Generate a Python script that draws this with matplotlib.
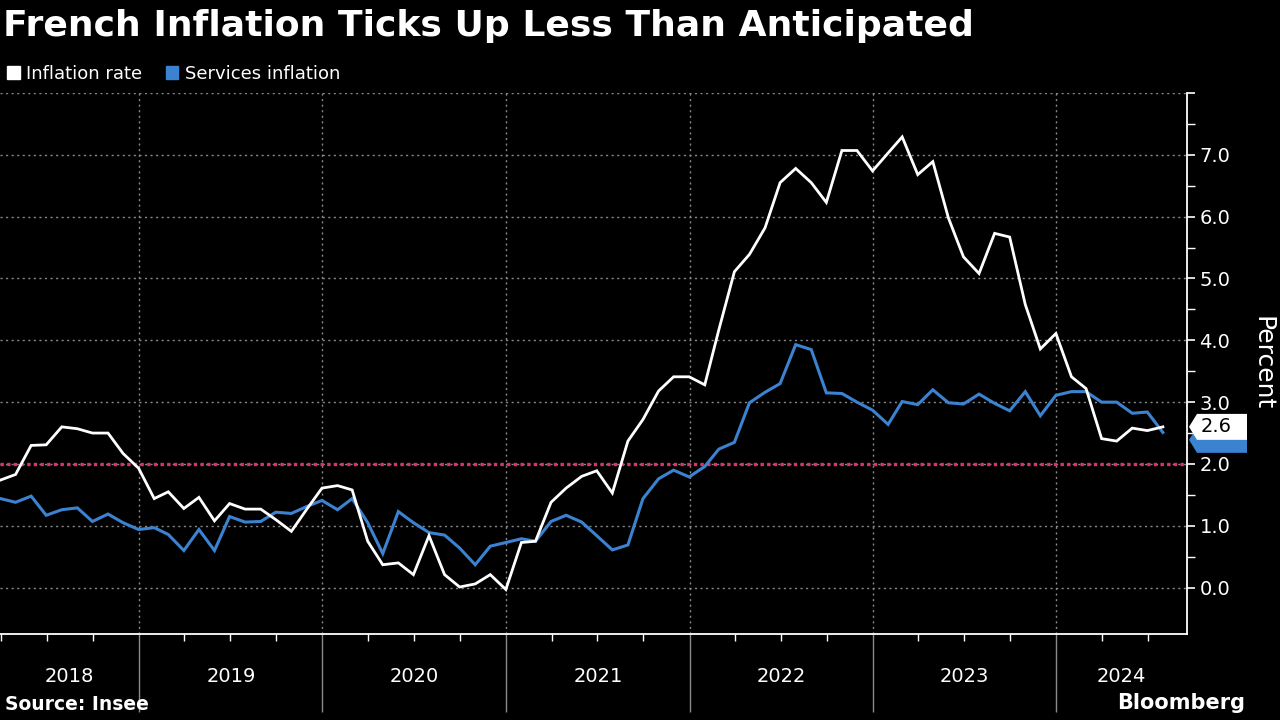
"""
French inflation vs services inflation, Bloomberg-style dark chart.
"""
import numpy as np
import pandas as pd
import matplotlib
matplotlib.use("Agg")
import matplotlib.pyplot as plt
import matplotlib.dates as mdates
import matplotlib.transforms as mtransforms
from matplotlib.patches import Patch, Polygon

# =========================================================
# DATA  (monthly, Mar 2018 - Jul 2024, % y/y)
# =========================================================
dates = pd.date_range("2018-03-31", "2024-07-31", freq="ME")

inflation_rate = [
    1.74, 1.83, 2.30, 2.31, 2.60, 2.57, 2.50, 2.50, 2.17, 1.93,                   # 2018
    1.44, 1.55, 1.28, 1.46, 1.08, 1.36, 1.27, 1.27, 1.10, 0.91, 1.26, 1.61,       # 2019
    1.65, 1.58, 0.75, 0.37, 0.40, 0.21, 0.84, 0.21, 0.01, 0.06, 0.21, -0.03,      # 2020
    0.73, 0.75, 1.38, 1.61, 1.80, 1.89, 1.53, 2.37, 2.72, 3.18, 3.41, 3.41,       # 2021
    3.28, 4.17, 5.11, 5.39, 5.82, 6.55, 6.78, 6.55, 6.23, 7.07, 7.07, 6.74,       # 2022
    7.03, 7.29, 6.68, 6.89, 5.98, 5.35, 5.08, 5.73, 5.67, 4.58, 3.86, 4.11,       # 2023
    3.41, 3.22, 2.41, 2.37, 2.58, 2.54, 2.60,                                     # 2024
]
services_inflation = [
    1.44, 1.38, 1.48, 1.17, 1.26, 1.29, 1.07, 1.19, 1.05, 0.94,
    0.97, 0.86, 0.60, 0.94, 0.60, 1.15, 1.06, 1.07, 1.22, 1.20, 1.31, 1.41,
    1.26, 1.44, 1.05, 0.55, 1.23, 1.05, 0.89, 0.85, 0.64, 0.37, 0.67, 0.73,
    0.79, 0.75, 1.07, 1.17, 1.06, 0.84, 0.61, 0.69, 1.44, 1.76, 1.90, 1.79,
    1.96, 2.24, 2.35, 2.99, 3.16, 3.30, 3.93, 3.85, 3.15, 3.14, 3.00, 2.87,
    2.64, 3.01, 2.96, 3.20, 2.99, 2.97, 3.13, 2.98, 2.86, 3.17, 2.78, 3.11,
    3.17, 3.17, 3.00, 3.00, 2.82, 2.84, 2.51,
]
target = 2.0
years = list(range(2018, 2025))
last_label = "2.6"

# =========================================================
# STYLE
# =========================================================
BG = "black"
WHITE = "white"
BLUE = "#3b82d0"
RED = "#e0306a"
GRID = "#8a8a8a"
plt.rcParams["font.family"] = ["DejaVu Sans"]

fig = plt.figure(figsize=(12.8, 7.2), dpi=100, facecolor=BG)
ax = fig.add_axes([0.0, 1 - 634 / 720, 1187 / 1280, (634 - 93) / 720], facecolor=BG)

ax.plot(dates, services_inflation, color=BLUE, linewidth=2.2, zorder=3, solid_joinstyle="miter")
ax.plot(dates, inflation_rate, color=WHITE, linewidth=2.0, zorder=4, solid_joinstyle="miter")
ax.axhline(target, color=RED, linestyle=(0, (1, 1)), linewidth=2.4, zorder=2)

ax.set_ylim(-0.75, 8.0)
ax.set_xlim(pd.Timestamp("2018-03-30"), pd.Timestamp("2024-09-17"))

# y axis on the right
ax.yaxis.tick_right()
ax.set_yticks(range(0, 9))
ax.set_yticklabels([f"{v:.1f}" for v in range(0, 8)] + [""])
ax.set_yticks(np.arange(0.5, 8, 1.0), minor=True)
ax.tick_params(axis="y", which="major", colors=WHITE, labelcolor=WHITE, labelsize=14,
               length=6, width=1.2, direction="out", pad=3)
ax.tick_params(axis="y", which="minor", colors=WHITE, length=6, width=1.0, direction="out")
ax.set_ylabel("Percent", color=WHITE, fontsize=18, rotation=270, labelpad=32)
ax.yaxis.set_label_position("right")

# x axis: quarter ticks, year boundaries
ax.xaxis.set_major_locator(mdates.YearLocator())
ax.xaxis.set_minor_locator(mdates.MonthLocator(bymonth=[4, 7, 10]))
ax.xaxis.set_major_formatter(plt.NullFormatter())
ax.tick_params(axis="x", which="major", colors=GRID, length=56, width=1.0, direction="out")
ax.tick_params(axis="x", which="minor", colors=WHITE, length=5, width=1.0, direction="out")

xtr = mtransforms.blended_transform_factory(ax.transData, ax.transAxes)
left_lim, right_lim = ax.get_xlim()
for y in years:
    start = max(mdates.date2num(pd.Timestamp(f"{y}-01-01")), left_lim)
    end = min(mdates.date2num(pd.Timestamp(f"{y + 1}-01-01")), right_lim)
    ax.text((start + end) / 2, -42 / 541, str(y), color=WHITE, fontsize=14,
            ha="center", va="center", transform=xtr)

ax.grid(True, which="major", axis="both", color=GRID, linestyle=(0, (1.5, 2.5)), linewidth=1.0)
ax.set_axisbelow(True)

for side in ["top", "left"]:
    ax.spines[side].set_visible(False)
ax.spines["right"].set_color(WHITE)
ax.spines["right"].set_linewidth(1.3)
ax.spines["bottom"].set_color(WHITE)
ax.spines["bottom"].set_linewidth(1.3)

# end-of-line value tags (blue tucked behind, white on top)
tr = mtransforms.blended_transform_factory(fig.transFigure, ax.transData)
h = 0.21
x0, x1, x2 = 1189 / 1280, 1197 / 1280, 1247 / 1280
for val, fc, dy, z in [(services_inflation[-1], BLUE, -0.12, 5),
                       (inflation_rate[-1], WHITE, 0.0, 6)]:
    yc = val + dy
    poly = Polygon([(x0, yc), (x1, yc + h), (x2, yc + h), (x2, yc - h), (x1, yc - h)],
                   closed=True, transform=tr, facecolor=fc, edgecolor="none",
                   clip_on=False, zorder=z)
    fig.add_artist(poly)
fig.text(1216 / 1280, inflation_rate[-1], last_label, transform=tr, color="black",
         fontsize=14, ha="center", va="center", zorder=7)

# title / legend / footer
fig.text(0.002, 1 - 26 / 720, "French Inflation Ticks Up Less Than Anticipated",
         color=WHITE, fontsize=26, fontweight="bold", ha="left", va="center")
fig.legend(handles=[Patch(color=WHITE), Patch(color=BLUE)],
           labels=["Inflation rate", "Services inflation"],
           loc="center left", bbox_to_anchor=(0.0, 1 - 74 / 720), ncol=2, frameon=False,
           handlelength=0.7, handleheight=0.7, handletextpad=0.35, columnspacing=1.3,
           labelcolor=WHITE, fontsize=13, borderaxespad=0.2, borderpad=0.2)
fig.text(0.004, 1 - 705 / 720, "Source: Insee", color=WHITE, fontsize=13.5,
         fontweight="bold", ha="left", va="center")
fig.text(1245 / 1280, 1 - 703 / 720, "Bloomberg", color=WHITE, fontsize=15,
         fontweight="bold", ha="right", va="center")

fig.savefig("out.png", dpi=100, facecolor=BG)
